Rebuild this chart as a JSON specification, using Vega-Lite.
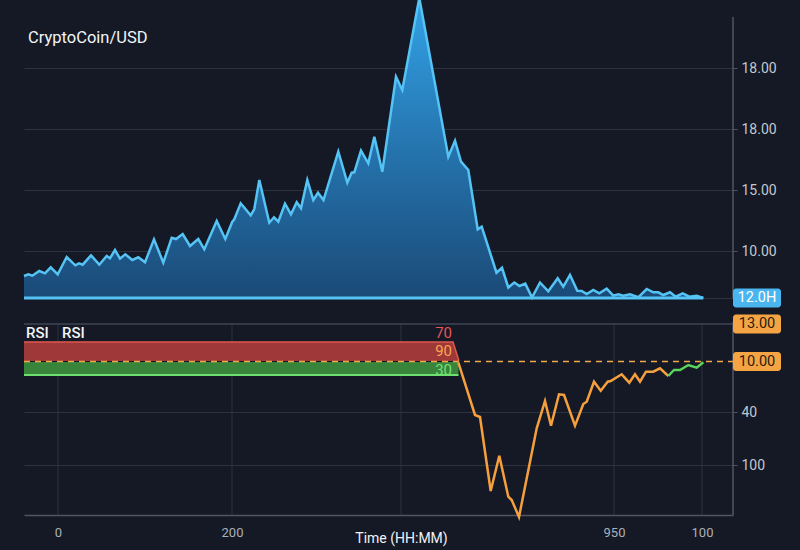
{
  "$schema": "https://vega.github.io/schema/vega-lite/v6.json",
  "width": 709,
  "height": 498,
  "autosize": {"type": "none"},
  "padding": {"left": 24, "top": 17, "right": 67, "bottom": 35},
  "background": "#141925",
  "config": {
    "view": {"stroke": null},
    "font": "Roboto"
  },
  "datasets": {
    "price": [
      {"t": 0, "level": 239}, {"t": 4.3, "level": 240.7}, {"t": 8.3, "level": 239.3}, {"t": 15.3, "level": 244},
      {"t": 21, "level": 241.7}, {"t": 26.7, "level": 247.7}, {"t": 33.7, "level": 240.7}, {"t": 42.7, "level": 258},
      {"t": 51.3, "level": 249.7}, {"t": 55, "level": 251.7}, {"t": 58.7, "level": 250.3}, {"t": 67, "level": 259.7},
      {"t": 75.3, "level": 250.3}, {"t": 82.7, "level": 259}, {"t": 86, "level": 256.7}, {"t": 91, "level": 265},
      {"t": 96, "level": 256.3}, {"t": 101.3, "level": 260.7}, {"t": 108.3, "level": 255}, {"t": 114.3, "level": 257.7},
      {"t": 121, "level": 252.7}, {"t": 130, "level": 275.7}, {"t": 139.3, "level": 252.3}, {"t": 147.7, "level": 277.3},
      {"t": 152, "level": 276}, {"t": 158.7, "level": 281}, {"t": 166, "level": 269}, {"t": 174.3, "level": 276},
      {"t": 180.3, "level": 265.7}, {"t": 192.7, "level": 294}, {"t": 201.3, "level": 276}, {"t": 208.3, "level": 293.3},
      {"t": 210.3, "level": 295.7}, {"t": 216.7, "level": 311.7}, {"t": 226.7, "level": 299.7}, {"t": 230.3, "level": 306},
      {"t": 235.3, "level": 335}, {"t": 245.3, "level": 292.3}, {"t": 250, "level": 297.7}, {"t": 254.3, "level": 293.3},
      {"t": 261, "level": 311.3}, {"t": 267, "level": 300.7}, {"t": 272.7, "level": 312.7}, {"t": 277, "level": 306.7},
      {"t": 283.3, "level": 335}, {"t": 289.3, "level": 315}, {"t": 294, "level": 322.3}, {"t": 299.5, "level": 315},
      {"t": 314.3, "level": 363.3}, {"t": 323.3, "level": 332.3}, {"t": 327.7, "level": 342.3}, {"t": 330.3, "level": 342.7},
      {"t": 337, "level": 364.3}, {"t": 344.3, "level": 351.7}, {"t": 350.3, "level": 378.3}, {"t": 358.3, "level": 343.3},
      {"t": 372, "level": 438.3}, {"t": 378.3, "level": 425}, {"t": 395.3, "level": 517}, {"t": 424.3, "level": 358.3},
      {"t": 431, "level": 374.3}, {"t": 437, "level": 353.3}, {"t": 444.3, "level": 345}, {"t": 453.7, "level": 285.7},
      {"t": 457.7, "level": 288.3}, {"t": 472.5, "level": 242.3}, {"t": 478, "level": 247.2}, {"t": 484.3, "level": 227.5},
      {"t": 490.3, "level": 232.5}, {"t": 495.5, "level": 229}, {"t": 501.3, "level": 231.3}, {"t": 508, "level": 217.5},
      {"t": 516, "level": 232.5}, {"t": 524.3, "level": 223.7}, {"t": 533.7, "level": 236.7}, {"t": 539.3, "level": 228.3},
      {"t": 546, "level": 240}, {"t": 553.3, "level": 224.3}, {"t": 557.7, "level": 224}, {"t": 562.7, "level": 221},
      {"t": 569.3, "level": 225}, {"t": 575.3, "level": 221.7}, {"t": 582.7, "level": 226.3}, {"t": 589.3, "level": 219.3},
      {"t": 594.3, "level": 220.7}, {"t": 599.3, "level": 219.3}, {"t": 606, "level": 220.7}, {"t": 614.3, "level": 217.7},
      {"t": 622.7, "level": 226}, {"t": 629.3, "level": 222.7}, {"t": 634.3, "level": 222.7}, {"t": 639.3, "level": 220},
      {"t": 646, "level": 222.7}, {"t": 651.7, "level": 218.3}, {"t": 658.7, "level": 221.7}, {"t": 665.3, "level": 218.3},
      {"t": 672.7, "level": 219.3}, {"t": 679.3, "level": 217}
    ],
    "rsi_orange": [
      {"t": 434.3, "level": 152.7}, {"t": 451, "level": 100}, {"t": 456, "level": 98}, {"t": 466.7, "level": 24},
      {"t": 475.3, "level": 59.3}, {"t": 484.3, "level": 18.3}, {"t": 487.7, "level": 15}, {"t": 495, "level": -2},
      {"t": 512.7, "level": 86.7}, {"t": 521, "level": 114}, {"t": 527, "level": 89.3}, {"t": 535, "level": 120.7},
      {"t": 540, "level": 120}, {"t": 551, "level": 89.3}, {"t": 559.3, "level": 111}, {"t": 562.7, "level": 113.3},
      {"t": 570, "level": 133.3}, {"t": 576.7, "level": 124.3}, {"t": 583.7, "level": 133.3}, {"t": 586.7, "level": 134},
      {"t": 597.7, "level": 140.7}, {"t": 605.3, "level": 132.3}, {"t": 611, "level": 140.7}, {"t": 616, "level": 133.3},
      {"t": 622, "level": 143.3}, {"t": 629.3, "level": 143.3}, {"t": 636, "level": 146.7}, {"t": 644.3, "level": 139}
    ],
    "rsi_green": [
      {"t": 644.3, "level": 139}, {"t": 650, "level": 145}, {"t": 656, "level": 145}, {"t": 664.3, "level": 150},
      {"t": 672.7, "level": 147.3}, {"t": 679.3, "level": 152.7}
    ],
    "red_band": [
      {"t": 0, "top": 173, "bottom": 154}, {"t": 429, "top": 173, "bottom": 154}, {"t": 435, "top": 154, "bottom": 154}
    ],
    "green_band": [
      {"t": 0, "top": 153, "bottom": 140}, {"t": 434.5, "top": 153, "bottom": 140}
    ],
    "zones": [
      {"label": "70", "level": 182, "color": "red"},
      {"label": "90", "level": 164.5, "color": "orange"},
      {"label": "30", "level": 145.5, "color": "green"}
    ],
    "badges": [
      {"label": "12.0H", "level": 217, "kind": "price"},
      {"label": "13.00", "level": 191, "kind": "rsi"},
      {"label": "10.00", "level": 153.5, "kind": "rsi"}
    ],
    "xticks": [{"t": 34}, {"t": 208}, {"t": 377}, {"t": 590}, {"t": 678}]
  },
  "layer": [
    {
      "data": {"name": "xticks"},
      "mark": {"type": "rule", "color": "#2c3240", "strokeWidth": 1},
      "encoding": {
        "x": {"field": "t", "type": "quantitative", "scale": {"domain": [0, 709], "nice": false, "zero": false},
          "axis": {
            "orient": "bottom",
            "values": [34, 208, 377, 590, 678],
            "labelExpr": "datum.value == 34 ? '0' : datum.value == 208 ? '200' : datum.value == 590 ? '950' : datum.value == 678 ? '100' : ''",
            "grid": false, "ticks": false, "domain": true, "domainColor": "#4f5666", "domainWidth": 1.5,
            "labelColor": "#aab0ba", "labelFontSize": 13, "labelPadding": 11, "labelFont": "Roboto",
            "title": "Time (HH:MM)", "titleColor": "#f0f2f5", "titleFontSize": 14, "titleFontWeight": "normal",
            "titleFont": "Roboto", "titleX": 377, "titleY": 16, "titleAlign": "center", "titleBaseline": "top"
          }},
        "y": {"datum": 0, "type": "quantitative", "scale": {"domain": [0, 498], "nice": false, "zero": false},
          "axis": {
            "orient": "right",
            "values": [447, 386, 325, 264, 217, 103, 50],
            "labelExpr": "datum.value == 447 ? '18.00' : datum.value == 386 ? '18.00' : datum.value == 325 ? '15.00' : datum.value == 264 ? '10.00' : datum.value == 103 ? '40' : datum.value == 50 ? '100' : ''",
            "grid": true, "gridColor": "#2c3240", "gridWidth": 1,
            "domain": false, "ticks": true, "tickColor": "#4f5666", "tickSize": 4,
            "labelColor": "#c3c8d0", "labelFontSize": 14, "labelPadding": 4, "labelFont": "Roboto",
            "title": null
          }},
        "y2": {"datum": 191}
      }
    },
    {
      "data": {"values": [{}]},
      "mark": {"type": "rule", "color": "#4f5666", "strokeWidth": 1.5},
      "encoding": {
        "x": {"datum": 709, "type": "quantitative"},
        "y": {"datum": 498, "type": "quantitative"},
        "y2": {"datum": 217}
      }
    },
    {
      "data": {"values": [{}]},
      "mark": {"type": "rule", "color": "#4f5666", "strokeWidth": 1.5},
      "encoding": {
        "x": {"datum": 709, "type": "quantitative"},
        "y": {"datum": 193, "type": "quantitative"},
        "y2": {"datum": 0}
      }
    },
    {
      "data": {"values": [{}]},
      "mark": {"type": "rule", "color": "#3e4452", "strokeWidth": 1.5},
      "encoding": {
        "x": {"datum": 0, "type": "quantitative"},
        "x2": {"datum": 709},
        "y": {"datum": 191, "type": "quantitative"}
      }
    },
    {
      "data": {"name": "price"},
      "mark": {
        "type": "area",
        "clip": false,
        "color": {
          "gradient": "linear", "x1": 0, "y1": 0, "x2": 0, "y2": 1,
          "stops": [
            {"offset": 0, "color": "#33a2e6"},
            {"offset": 0.55, "color": "#2470a9"},
            {"offset": 1, "color": "#1a4a77"}
          ]
        }
      },
      "encoding": {
        "x": {"field": "t", "type": "quantitative"},
        "y": {"field": "level", "type": "quantitative"},
        "y2": {"datum": 217}
      }
    },
    {
      "data": {"values": [{}]},
      "mark": {"type": "rule", "color": "#55c4f5", "strokeWidth": 3},
      "encoding": {
        "x": {"datum": 0, "type": "quantitative"},
        "x2": {"datum": 679.3},
        "y": {"datum": 217, "type": "quantitative"}
      }
    },
    {
      "data": {"name": "price"},
      "mark": {"type": "line", "color": "#55c4f5", "strokeWidth": 2.5, "clip": false, "strokeJoin": "miter"},
      "encoding": {
        "x": {"field": "t", "type": "quantitative"},
        "y": {"field": "level", "type": "quantitative"}
      }
    },
    {
      "data": {"name": "red_band"},
      "mark": {"type": "area", "color": "#a53a3a", "opacity": 0.95},
      "encoding": {
        "x": {"field": "t", "type": "quantitative"},
        "y": {"field": "top", "type": "quantitative"},
        "y2": {"field": "bottom"}
      }
    },
    {
      "data": {"name": "red_band"},
      "mark": {"type": "line", "color": "#e0584f", "strokeWidth": 1.5},
      "encoding": {
        "x": {"field": "t", "type": "quantitative"},
        "y": {"field": "top", "type": "quantitative"}
      }
    },
    {
      "data": {"name": "green_band"},
      "mark": {"type": "area", "color": "#3a8a3c", "opacity": 0.95},
      "encoding": {
        "x": {"field": "t", "type": "quantitative"},
        "y": {"field": "top", "type": "quantitative"},
        "y2": {"field": "bottom"}
      }
    },
    {
      "data": {"name": "green_band"},
      "mark": {"type": "line", "color": "#6ee070", "strokeWidth": 2},
      "encoding": {
        "x": {"field": "t", "type": "quantitative"},
        "y": {"field": "bottom", "type": "quantitative"}
      }
    },
    {
      "data": {"values": [{}]},
      "mark": {"type": "rule", "color": "#f2a848", "strokeWidth": 1.5, "strokeDash": [6, 5]},
      "encoding": {
        "x": {"datum": 0, "type": "quantitative"},
        "x2": {"datum": 709},
        "y": {"datum": 153.5, "type": "quantitative"}
      }
    },
    {
      "data": {"name": "rsi_orange"},
      "mark": {"type": "line", "color": "#f5a03c", "strokeWidth": 2.5, "clip": false},
      "encoding": {
        "x": {"field": "t", "type": "quantitative"},
        "y": {"field": "level", "type": "quantitative"}
      }
    },
    {
      "data": {"name": "rsi_green"},
      "mark": {"type": "line", "color": "#5ad45a", "strokeWidth": 2.5},
      "encoding": {
        "x": {"field": "t", "type": "quantitative"},
        "y": {"field": "level", "type": "quantitative"}
      }
    },
    {
      "data": {"name": "zones"},
      "mark": {"type": "text", "align": "right", "baseline": "middle", "fontSize": 15, "font": "Roboto"},
      "encoding": {
        "x": {"datum": 428, "type": "quantitative"},
        "y": {"field": "level", "type": "quantitative"},
        "text": {"field": "label"},
        "color": {"field": "color", "type": "nominal",
          "scale": {"domain": ["red", "orange", "green"], "range": ["#e8545a", "#f5a94e", "#72e27a"]},
          "legend": null}
      }
    },
    {
      "data": {"values": [{"label": "CryptoCoin/USD"}]},
      "mark": {"type": "text", "align": "left", "baseline": "middle", "fontSize": 16.5, "color": "#f2f4f7", "font": "Roboto"},
      "encoding": {
        "x": {"datum": 4, "type": "quantitative"},
        "y": {"datum": 477, "type": "quantitative"},
        "text": {"field": "label"}
      }
    },
    {
      "data": {"values": [{"label": "RSI", "pos": 2}, {"label": "RSI", "pos": 38}]},
      "mark": {"type": "text", "align": "left", "baseline": "middle", "fontSize": 15, "fontWeight": 500, "color": "#f2f4f7", "font": "Roboto"},
      "encoding": {
        "x": {"field": "pos", "type": "quantitative"},
        "y": {"datum": 182, "type": "quantitative"},
        "text": {"field": "label"}
      }
    },
    {
      "data": {"name": "badges"},
      "transform": [
        {"calculate": "datum.level + 9.5", "as": "top"},
        {"calculate": "datum.level - 9.5", "as": "bottom"}
      ],
      "mark": {"type": "rect", "cornerRadius": 3, "clip": false},
      "encoding": {
        "x": {"datum": 709, "type": "quantitative"},
        "x2": {"datum": 757},
        "y": {"field": "top", "type": "quantitative"},
        "y2": {"field": "bottom"},
        "fill": {"field": "kind", "type": "nominal",
          "scale": {"domain": ["price", "rsi"], "range": ["#4ab6ef", "#f5a444"]}, "legend": null}
      }
    },
    {
      "data": {"name": "badges"},
      "transform": [{"filter": "datum.kind == 'price'"}],
      "mark": {"type": "text", "align": "center", "baseline": "middle", "fontSize": 14.5, "font": "Roboto", "clip": false, "color": "#ffffff"},
      "encoding": {
        "x": {"datum": 733, "type": "quantitative"},
        "y": {"field": "level", "type": "quantitative"},
        "text": {"field": "label"}
      }
    },
    {
      "data": {"name": "badges"},
      "transform": [{"filter": "datum.kind == 'rsi'"}],
      "mark": {"type": "text", "align": "center", "baseline": "middle", "fontSize": 14.5, "font": "Roboto", "clip": false, "color": "#2a1c0c"},
      "encoding": {
        "x": {"datum": 733, "type": "quantitative"},
        "y": {"field": "level", "type": "quantitative"},
        "text": {"field": "label"}
      }
    }
  ]
}
